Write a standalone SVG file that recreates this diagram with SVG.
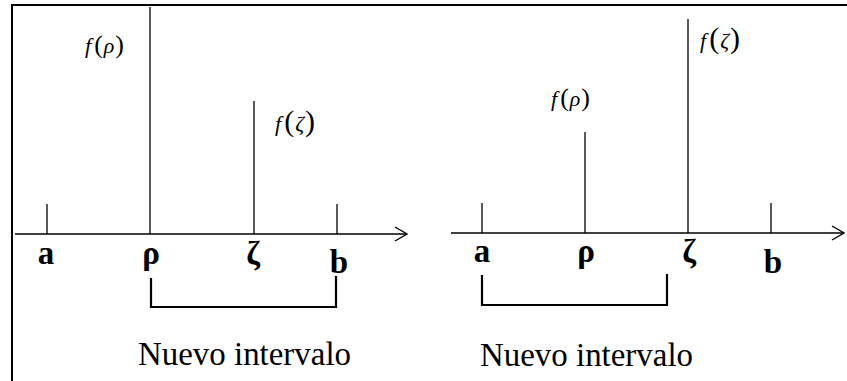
<svg xmlns="http://www.w3.org/2000/svg" width="847" height="381" viewBox="0 0 847 381">
<defs>
<style>
.frame{stroke:#000;stroke-width:2;fill:none}
.ln{stroke:#000;stroke-width:1.3;fill:none}
.axis{stroke:#000;stroke-width:1.5;fill:none}
.br{stroke:#000;stroke-width:2.2;fill:none}
.pt{font-family:"Liberation Serif","DejaVu Serif",serif;font-weight:bold;font-size:33px;fill:#000;text-anchor:middle}
.fn{font-family:"Liberation Serif",serif;font-size:22px;fill:#000}
.it{font-family:"Liberation Serif",serif;font-style:italic}
.pa{font-family:"Liberation Serif",serif;font-size:26px}
.pb{font-family:"Liberation Serif",serif;font-size:30px}
.cap{font-family:"Liberation Serif",serif;font-size:33px;fill:#000}
</style>
<marker id="arr" viewBox="0 0 14 16" refX="13" refY="8" markerWidth="14" markerHeight="16" markerUnits="userSpaceOnUse" orient="auto">
<path d="M1,1 L13,8 L1,15" fill="none" stroke="#000" stroke-width="1.4"/>
</marker>
</defs>
<rect width="847" height="381" fill="#fff"/>
<path class="frame" d="M12,381 V5 H847"/>

<g id="left-panel">
<g id="connectors-left">
<line class="axis" x1="15" y1="234" x2="407" y2="234" marker-end="url(#arr)"/>
<line class="ln" x1="47" y1="204" x2="47" y2="234"/>
<line class="ln" x1="150" y1="7" x2="150" y2="234"/>
<line class="ln" x1="254" y1="101" x2="254" y2="234"/>
<line class="ln" x1="337" y1="204" x2="337" y2="234"/>
<path class="br" d="M151,278 V307 H336 V276"/>
</g>
<g id="l-a"><text class="pt" x="46" y="264">a</text></g>
<g id="l-rho"><text class="pt" x="151" y="264">ρ</text></g>
<g id="l-zeta"><text class="pt" x="253" y="264">ζ</text></g>
<g id="l-b"><text class="pt" x="339" y="273">b</text></g>
<g id="l-frho"><text class="fn" x="85" y="53"><tspan class="it">f</tspan><tspan class="pa" dx="3">(</tspan><tspan class="it" dx="1">ρ</tspan><tspan class="pa" dx="1">)</tspan></text></g>
<g id="l-fzeta"><text class="fn" x="275" y="131"><tspan class="it">f</tspan><tspan class="pb" dx="3">(</tspan><tspan class="it" dx="1">ζ</tspan><tspan class="pb" dx="1">)</tspan></text></g>
<g id="l-cap"><text class="cap" x="138" y="365" textLength="213" lengthAdjust="spacingAndGlyphs">Nuevo intervalo</text></g>
</g>

<g id="right-panel">
<g id="connectors-right">
<line class="axis" x1="451" y1="233" x2="844" y2="233" marker-end="url(#arr)"/>
<line class="ln" x1="482" y1="203" x2="482" y2="233"/>
<line class="ln" x1="585" y1="132" x2="585" y2="233"/>
<line class="ln" x1="688" y1="19" x2="688" y2="233"/>
<line class="ln" x1="771" y1="203" x2="771" y2="233"/>
<path class="br" d="M482,275 V305 H667 V274"/>
</g>
<g id="r-a"><text class="pt" x="482" y="262">a</text></g>
<g id="r-rho"><text class="pt" x="586" y="262">ρ</text></g>
<g id="r-zeta"><text class="pt" x="689" y="262">ζ</text></g>
<g id="r-b"><text class="pt" x="773" y="273">b</text></g>
<g id="r-frho"><text class="fn" x="551" y="106"><tspan class="it">f</tspan><tspan class="pa" dx="3">(</tspan><tspan class="it" dx="1">ρ</tspan><tspan class="pa" dx="1">)</tspan></text></g>
<g id="r-fzeta"><text class="fn" x="700" y="48"><tspan class="it">f</tspan><tspan class="pb" dx="3">(</tspan><tspan class="it" dx="1">ζ</tspan><tspan class="pb" dx="1">)</tspan></text></g>
<g id="r-cap"><text class="cap" x="480" y="366" textLength="213" lengthAdjust="spacingAndGlyphs">Nuevo intervalo</text></g>
</g>
</svg>
